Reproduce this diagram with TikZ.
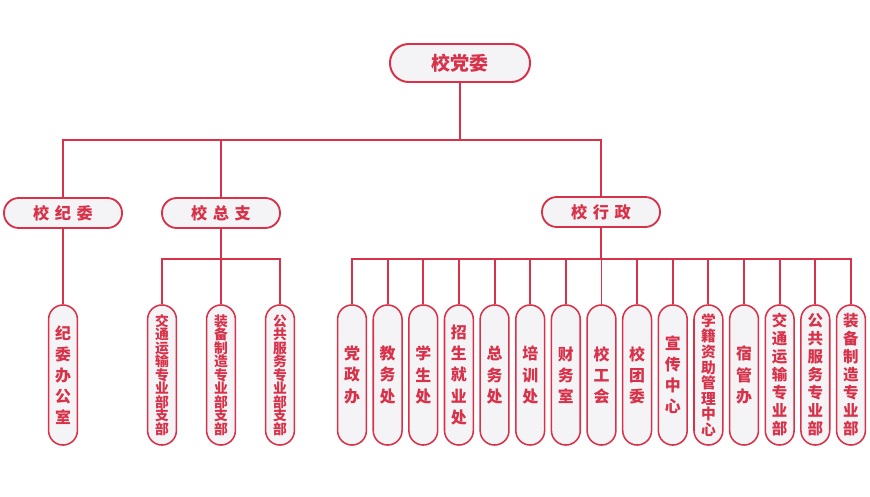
\documentclass[tikz,border=0pt]{standalone}
\usepackage{fontspec}
\newfontfamily\cjk{Noto Sans CJK SC}
\definecolor{orgred}{HTML}{D8324A}
\definecolor{boxfill}{HTML}{F4F4F6}
\tikzset{
  link/.style={orgred, line width=1.4pt},
  topbox/.style={draw=orgred, fill=boxfill, line width=1.4pt, rounded corners=0.47cm,
    minimum width=3.5cm, minimum height=0.95cm, text=orgred,
    font=\cjk\bfseries\fontsize{13.5}{15}\selectfont},
  midbox/.style={draw=orgred, fill=boxfill, line width=1.3pt, rounded corners=0.37cm,
    minimum width=2.95cm, minimum height=0.75cm, text=orgred,
    font=\cjk\bfseries\fontsize{11.5}{13}\selectfont},
  leaf/.style={draw=orgred, fill=boxfill, line width=1.1pt, rounded corners=0.36cm,
    minimum width=0.72cm, minimum height=3.5cm, inner sep=0pt, align=center, text=orgred}
}
\begin{document}
\begin{tikzpicture}[x=0.025cm, y=-0.025cm]
    \fill[white] (0,0) rectangle (870,496);
    \useasboundingbox (0,0) rectangle (870,496);

    \node[topbox] (dangwei) at (460,63) {校党委};

    \node[midbox] (jiwei) at (63,213) {校\hspace{4pt}纪\hspace{4pt}委};
    \node[midbox] (zongzhi) at (221,213) {校\hspace{4pt}总\hspace{4pt}支};
    \node[midbox] (xingzheng) at (601,212) {校\hspace{4pt}行\hspace{4pt}政};

    % leaves
    \node[leaf, font=\cjk\bfseries\fontsize{11.3}{15}\selectfont] (office) at (63,375) {纪\\委\\办\\公\\室};

    \foreach \t/\fs/\bs [count=\i] in {
        {交\\通\\运\\输\\专\\业\\部\\支\\部}/9.8/9.6,
        {装\\备\\制\\造\\专\\业\\部\\支\\部}/9.8/9.6,
        {公\\共\\服\\务\\专\\业\\部\\支\\部}/9.8/9.6}
      \node[leaf, font=\cjk\bfseries\fontsize{\fs}{\bs}\selectfont] (zb\i) at ({162+59*(\i-1)},375) {\t};

    \foreach \t/\fs/\bs [count=\i] in {
        {党\\政\\办}/11.3/15,
        {教\\务\\处}/11.3/15,
        {学\\生\\处}/11.3/15,
        {招\\生\\就\\业\\处}/11.3/15,
        {总\\务\\处}/11.3/15,
        {培\\训\\处}/11.3/15,
        {财\\务\\室}/11.3/15,
        {校\\工\\会}/11.3/15,
        {校\\团\\委}/11.3/15,
        {宣\\传\\中\\心}/11.3/15,
        {学\\籍\\资\\助\\管\\理\\中\\心}/10.5/11.1,
        {宿\\管\\办}/11.3/15,
        {交\\通\\运\\输\\专\\业\\部}/11/12.8,
        {公\\共\\服\\务\\专\\业\\部}/11/12.8,
        {装\\备\\制\\造\\专\\业\\部}/11/12.8}
      \node[leaf, font=\cjk\bfseries\fontsize{\fs}{\bs}\selectfont] (xz\i) at ({352+35.64*(\i-1)},375) {\t};

    % connectors
    \draw[link] (dangwei.south) -- (dangwei.south |- 0,140) coordinate (bus);
    \foreach \n in {jiwei,zongzhi,xingzheng}
      \draw[link] (bus) -| (\n.north);

    \draw[link] (jiwei.south) -- (office.north);

    \draw[link] (zongzhi.south) -- ++(0,30) coordinate (zbus);
    \foreach \i in {1,...,3}
      \draw[link] (zbus) -| (zb\i.north);

    \draw[link] (xingzheng.south) -- ++(0,31) coordinate (xbus);
    \foreach \i in {1,...,15}
      \draw[link] (xbus) -| (xz\i.north);
\end{tikzpicture}
\end{document}
